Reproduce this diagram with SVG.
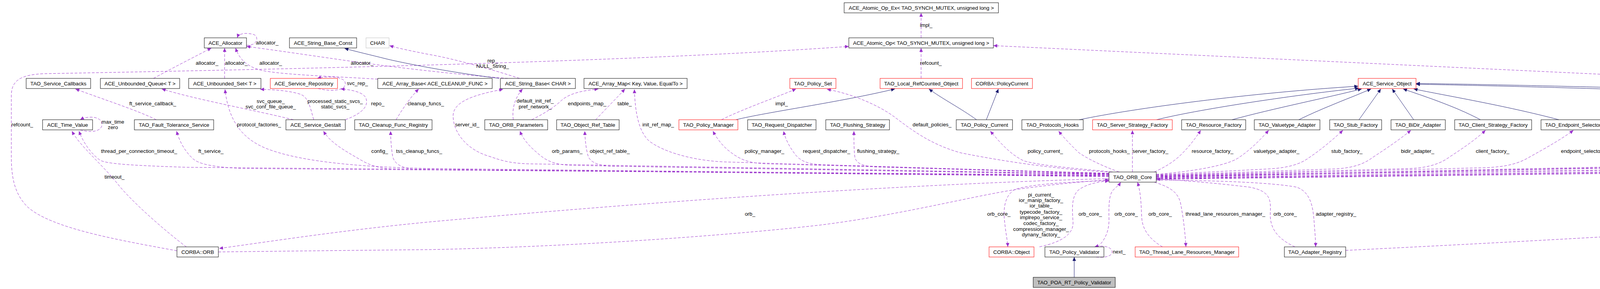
<svg xmlns="http://www.w3.org/2000/svg" width="6268" height="741" viewBox="0 0 6268 741">
<style>
.node rect{fill:#ffffff;stroke:#000000;stroke-width:1}
.node.red rect{stroke:#ff0000}
.node.gray rect{stroke:#bfbfbf}
.node.cur rect{fill:#bfbfbf}
text{font-family:"Liberation Sans",Arial,Helvetica,sans-serif;font-size:13.33px;fill:#000000;text-anchor:middle}
.e{fill:none;stroke:#9a32cd;stroke-width:1;stroke-dasharray:7,4;marker-end:url(#ap)}
.i{fill:none;stroke:#191970;stroke-width:1;marker-end:url(#ai)}
</style>
<defs>
<marker id="ap" markerUnits="userSpaceOnUse" markerWidth="11" markerHeight="9" refX="10" refY="4.5" orient="auto"><path d="M0,0 L10,4.5 L0,9 z" fill="#9a32cd"/></marker>
<marker id="ai" markerUnits="userSpaceOnUse" markerWidth="11" markerHeight="9" refX="10" refY="4.5" orient="auto"><path d="M0,0 L10,4.5 L0,9 z" fill="#191970"/></marker>
</defs>
<rect x="0" y="0" width="6268" height="741" fill="#ffffff"/>
<g id="edges">
<path class="e" d="M631,116 C660,118 664,92 648,88 C632,84 612,84 607,97"/>
<path class="e" d="M393,201 C440,175 500,145 541,123"/>
<path class="e" d="M575,201 L575,123"/>
<path class="e" d="M967,203 C860,196 720,192 668,180 C630,170 612,150 603,123"/>
<path class="e" d="M1300,201 C1180,192 1030,175 920,160 C800,143 700,128 631,119"/>
<path class="e" d="M1330,201 C1250,175 1150,148 1100,140 C1050,130 1020,124 997,117"/>
<path class="e" d="M453,643 C300,615 130,585 70,530 C35,495 29,450 29,400 L29,245 C29,205 55,192 110,189 C700,178 1600,160 2173,119"/>
<path class="e" d="M2358,97 L2358,33"/>
<path class="e" d="M2358,201 L2358,123"/>
<path class="e" d="M2960,452 C3600,440 5500,420 6000,418 C6042,414 6042,370 6040,330 C6036,280 5990,230 5930,200 C5860,170 5760,175 5700,195 C5600,225 5480,245 5300,247 L2543,117"/>
<path class="i" d="M1278,201 C1150,185 1040,163 989,151 C950,141 910,132 882,124"/>
<path class="i" d="M1884,307 C1960,288 2150,262 2291,228"/>
<path class="i" d="M2500,307 C2460,278 2410,252 2378,228"/>
<path class="i" d="M2525,307 L2556,228"/>
<path class="i" d="M2763,307 C2900,278 3200,238 3477,221"/>
<path class="i" d="M2961,307 C3060,282 3300,245 3479,226"/>
<path class="i" d="M3154,307 C3260,278 3400,250 3486,228"/>
<path class="i" d="M3325,307 C3390,275 3460,250 3510,228"/>
<path class="i" d="M3479,307 L3535,228"/>
<path class="i" d="M3619,307 L3564,228"/>
<path class="i" d="M3790,307 C3720,270 3640,245 3592,228"/>
<path class="i" d="M3991,307 C3850,270 3700,245 3619,228"/>
<path class="i" d="M5562,307 C5400,290 5100,270 4600,246 C4200,229 3800,219 3625,216"/>
<path class="i" d="M5770,307 C5600,290 5200,258 4600,238 C4200,225 3800,216 3625,214"/>
<path class="i" d="M2750,711 L2750,659"/>
<path class="e" d="M400,307 C350,282 250,250 193,228"/>
<path class="e" d="M751,307 C650,282 500,255 414,228"/>
<path class="e" d="M803,307 C795,278 790,250 770,242 C740,232 700,230 666,229"/>
<path class="e" d="M884,307 C930,290 945,270 936,250 C928,236 900,230 872,228"/>
<path class="e" d="M814,227 C850,236 884,232 884,214 C884,196 840,194 812,201"/>
<path class="e" d="M1014,307 C1030,280 1050,250 1072,228"/>
<path class="e" d="M1314,307 C1310,280 1318,250 1338,228"/>
<path class="e" d="M1361,307 C1400,288 1425,270 1440,255 C1465,236 1500,232 1532,228"/>
<path class="e" d="M1525,307 C1550,280 1580,250 1600,228"/>
<path class="e" d="M1847,307 C1900,280 2000,245 2038,228"/>
<path class="e" d="M205,333 C235,342 262,336 261,318 C260,298 225,296 205,307"/>
<path class="e" d="M4660,333 C4700,345 4730,338 4727,318 C4724,296 4690,294 4660,307"/>
<path class="e" d="M2806,659 C2830,662 2848,656 2847,645 C2846,632 2820,628 2802,633"/>
<path class="e" d="M2839,449 L480,429 C330,424 270,420 255,410 C235,395 215,370 202,336"/>
<path class="e" d="M2839,450 L620,432 C540,428 510,420 495,408 C475,390 460,365 452,336"/>
<path class="e" d="M2839,451 L1100,432 C900,428 760,412 680,380 C620,355 585,310 576,229"/>
<path class="e" d="M2839,452 L1000,433 C960,430 940,420 920,408 C880,385 845,365 828,336"/>
<path class="e" d="M2839,453 L1060,434 C1020,430 1008,415 1005,400 C1002,380 1000,360 1000,336"/>
<path class="e" d="M2839,446 L1350,420 C1300,418 1280,410 1250,400 C1200,385 1162,345 1160,300 C1158,265 1200,245 1288,229"/>
<path class="e" d="M2839,447 L1460,424 C1420,422 1400,412 1385,400 C1360,380 1340,360 1331,336"/>
<path class="e" d="M2839,448 L1560,426 C1520,423 1508,410 1505,398 C1500,380 1498,360 1497,336"/>
<path class="e" d="M2839,445 L1850,415 C1760,410 1690,385 1660,360 C1635,335 1626,290 1624,229"/>
<path class="e" d="M2839,444 L1960,420 C1910,418 1890,405 1870,390 C1850,375 1835,355 1825,336"/>
<path class="e" d="M2839,445 L2100,422 C2060,420 2045,408 2035,395 C2020,375 2010,355 2006,336"/>
<path class="e" d="M2839,446 L2240,428 C2200,425 2190,415 2188,400 C2186,380 2186,360 2186,336"/>
<path class="e" d="M2845,441 C2700,435 2550,410 2460,392 C2380,370 2330,330 2290,300 C2250,270 2180,240 2117,229"/>
<path class="e" d="M2848,441 C2760,432 2660,425 2620,412 C2585,395 2560,365 2535,336"/>
<path class="e" d="M2865,441 C2820,425 2780,405 2760,390 C2740,370 2725,355 2710,336"/>
<path class="e" d="M2899,441 L2899,334"/>
<path class="e" d="M2955,441 C2990,425 3010,410 3025,395 C3045,375 3060,355 3074,334"/>
<path class="e" d="M2960,447 C3050,440 3140,425 3170,405 C3200,385 3225,360 3248,334"/>
<path class="e" d="M2960,448 L3250,433 C3300,430 3330,420 3350,405 C3380,385 3410,360 3438,334"/>
<path class="e" d="M2960,449 L3420,433 C3470,430 3495,418 3515,403 C3550,380 3580,360 3612,334"/>
<path class="e" d="M2960,450 L3610,432 C3660,430 3690,418 3710,403 C3745,380 3775,360 3803,334"/>
<path class="e" d="M2960,451 L3800,430 C3860,428 3890,418 3915,403 C3960,378 4000,355 4028,334"/>
<path class="e" d="M2960,452 L4120,428 C4170,425 4185,410 4200,395 C4220,375 4240,355 4254,334"/>
<path class="e" d="M2960,453 L4300,428 C4350,425 4370,414 4385,400 C4405,380 4420,360 4437,334"/>
<path class="e" d="M2960,454 L4500,422 C4535,418 4555,402 4568,388 C4585,370 4600,352 4611,334"/>
<path class="e" d="M2960,455 L4540,421 C4620,414 4720,394 4780,374 C4840,356 4890,345 4914,334"/>
<path class="e" d="M2960,456 L4812,425 C4900,418 4990,405 5040,390 C5110,368 5160,350 5193,334"/>
<path class="e" d="M2960,457 L5250,424 C5300,420 5330,400 5350,385 C5380,365 5400,350 5420,334"/>
<path class="e" d="M2960,458 L5430,424 C5480,420 5510,405 5530,393 C5570,370 5600,350 5620,334"/>
<path class="e" d="M2960,459 L5680,423 C5730,420 5760,405 5780,392 C5810,372 5840,350 5860,334"/>
<path class="e" d="M2960,460 L6040,420 C6070,418 6075,405 6080,390 C6085,370 6100,350 6134,334"/>
<path class="e" d="M2839,458 C2400,470 1800,505 1100,569 C880,590 700,618 561,637"/>
<path class="e" d="M559,646 C800,643 1000,641 1100,640 C1500,632 1900,600 2100,577 C2300,552 2480,505 2600,486 C2700,472 2780,465 2839,461"/>
<path class="e" d="M477,633 C420,590 335,515 300,470 C260,420 205,375 184,336"/>
<path class="e" d="M2839,463 C2760,466 2650,470 2600,485 C2570,500 2568,540 2572,570 C2575,600 2579,615 2580,633"/>
<path class="e" d="M2661,633 C2720,620 2748,600 2747,570 C2745,540 2742,505 2760,488 C2780,472 2810,466 2839,464"/>
<path class="e" d="M2810,633 C2830,615 2840,590 2839,560 C2838,520 2840,495 2852,485 C2860,478 2866,472 2869,467"/>
<path class="e" d="M2976,633 C2945,615 2925,590 2923,560 C2921,530 2922,500 2912,467"/>
<path class="e" d="M2955,467 C2990,478 3015,490 3022,520 C3030,560 3034,600 3036,633"/>
<path class="e" d="M2960,462 C3100,462 3260,468 3320,480 C3360,495 3362,540 3365,580 C3367,605 3368,620 3368,633"/>
<path class="e" d="M3315,633 C3265,610 3250,580 3252,545 C3254,510 3250,490 3200,480 C3100,468 3020,462 2960,459"/>
<path class="e" d="M3445,642 C4000,615 5000,560 5700,496 C5950,475 6140,455 6180,425 C6192,400 6188,360 6184,334"/>
</g>
<g id="edge-labels">
<text x="684" y="114">allocator_</text>
<text x="530" y="166">allocator_</text>
<text x="605" y="166">allocator_</text>
<text x="693" y="166">allocator_</text>
<text x="927" y="166">allocator_</text>
<text x="1261" y="160">rep_</text>
<text x="1261" y="174">NULL_String_</text>
<text x="915" y="218">svc_rep_</text>
<text x="391" y="270">ft_service_callback_</text>
<text x="693" y="264">svc_queue_</text>
<text x="693" y="278">svc_conf_file_queue_</text>
<text x="858" y="264">processed_static_svcs_</text>
<text x="858" y="278">static_svcs_</text>
<text x="967" y="270">repo_</text>
<text x="1090" y="270">cleanup_funcs_</text>
<text x="1370" y="263">default_init_ref_</text>
<text x="1370" y="278">pref_network_</text>
<text x="1503" y="270">endpoints_map_</text>
<text x="1599" y="270">table_</text>
<text x="2001" y="270">impl_</text>
<text x="2371" y="69">impl_</text>
<text x="2383" y="166">refcount_</text>
<text x="57" y="324">refcount_</text>
<text x="289" y="317">max_time</text>
<text x="289" y="331">zero</text>
<text x="663" y="324">protocol_factories_</text>
<text x="1196" y="324">server_id_</text>
<text x="1685" y="324">init_ref_map_</text>
<text x="2386" y="324">default_policies_</text>
<text x="4756" y="324">thr_mgr_</text>
<text x="6026" y="270">refcount_</text>
<text x="356" y="392">thread_per_connection_timeout_</text>
<text x="540" y="392">ft_service_</text>
<text x="972" y="392">config_</text>
<text x="1073" y="392">tss_cleanup_funcs_</text>
<text x="1452" y="392">orb_params_</text>
<text x="1561" y="392">object_ref_table_</text>
<text x="1957" y="392">policy_manager_</text>
<text x="2116" y="392">request_dispatcher_</text>
<text x="2248" y="392">flushing_strategy_</text>
<text x="2676" y="392">policy_current_</text>
<text x="2840" y="392">protocols_hooks_</text>
<text x="2945" y="392">server_factory_</text>
<text x="3104" y="392">resource_factory_</text>
<text x="3268" y="392">valuetype_adapter_</text>
<text x="3448" y="392">stub_factory_</text>
<text x="3629" y="392">bidir_adapter_</text>
<text x="3821" y="392">client_factory_</text>
<text x="4076" y="392">endpoint_selector_factory_</text>
<text x="4294" y="392">codeset_manager_</text>
<text x="4469" y="392">parser_registry_</text>
<text x="4610" y="392">tm_</text>
<text x="4905" y="392">data_block_lock_</text>
<text x="5219" y="392">ior_interceptor_adapter_</text>
<text x="5655" y="392">collocation_resolver_</text>
<text x="5929" y="392">network_priority_protocols_hooks_</text>
<text x="6141" y="392">poa_adapter_</text>
<text x="5437" y="370">rt_orb_</text>
<text x="5437" y="385">poa_current_</text>
<text x="5437" y="400">rt_current_</text>
<text x="5437" y="414">root_poa_</text>
<text x="293" y="458">timeout_</text>
<text x="6156" y="458">adapters_</text>
<text x="1920" y="553">orb_</text>
<text x="2557" y="553">orb_core_</text>
<text x="2791" y="553">orb_core_</text>
<text x="2883" y="553">orb_core_</text>
<text x="2970" y="553">orb_core_</text>
<text x="3290" y="553">orb_core_</text>
<text x="3137" y="553">thread_lane_resources_manager_</text>
<text x="3420" y="553">adapter_registry_</text>
<text x="2665" y="504">pi_current_</text>
<text x="2665" y="518">ior_manip_factory_</text>
<text x="2665" y="532">ior_table_</text>
<text x="2665" y="548">typecode_factory_</text>
<text x="2665" y="562">implrepo_service_</text>
<text x="2665" y="577">codec_factory_</text>
<text x="2665" y="592">compression_manager_</text>
<text x="2665" y="606">dynany_factory_</text>
<text x="2865" y="650">next_</text>
</g>
<g id="n_atomic_op_ex" class="node"><rect x="2161" y="7" width="395" height="26"/><text x="2358.5" y="24.7">ACE_Atomic_Op_Ex&lt; TAO_SYNCH_MUTEX, unsigned long &gt;</text></g>
<g id="n_allocator" class="node"><rect x="523" y="97" width="108" height="26"/><text x="577" y="114.7">ACE_Allocator</text></g>
<g id="n_string_base_const" class="node"><rect x="741" y="97" width="172" height="26"/><text x="827" y="114.7">ACE_String_Base_Const</text></g>
<g id="n_char" class="node gray"><rect x="937" y="97" width="59" height="26"/><text x="966.5" y="114.7">CHAR</text></g>
<g id="n_atomic_op" class="node"><rect x="2173" y="97" width="370" height="26"/><text x="2358" y="114.7">ACE_Atomic_Op&lt; TAO_SYNCH_MUTEX, unsigned long &gt;</text></g>
<g id="n_service_callbacks" class="node"><rect x="67" y="201" width="165" height="26"/><text x="149.5" y="218.7">TAO_Service_Callbacks</text></g>
<g id="n_unbounded_queue" class="node"><rect x="257" y="201" width="203" height="26"/><text x="358.5" y="218.7">ACE_Unbounded_Queue&lt; T &gt;</text></g>
<g id="n_unbounded_set" class="node"><rect x="483" y="201" width="185" height="26"/><text x="575.5" y="218.7">ACE_Unbounded_Set&lt; T &gt;</text></g>
<g id="n_service_repository" class="node red"><rect x="692" y="201" width="172" height="26"/><text x="778" y="218.7">ACE_Service_Repository</text></g>
<g id="n_array_base" class="node"><rect x="967" y="201" width="293" height="26"/><text x="1113.5" y="218.7">ACE_Array_Base&lt; ACE_CLEANUP_FUNC &gt;</text></g>
<g id="n_string_base" class="node"><rect x="1281" y="201" width="192" height="26"/><text x="1377" y="218.7">ACE_String_Base&lt; CHAR &gt;</text></g>
<g id="n_array_map" class="node"><rect x="1495" y="201" width="264" height="26"/><text x="1627" y="218.7">ACE_Array_Map&lt; Key, Value, EqualTo &gt;</text></g>
<g id="n_policy_set" class="node red"><rect x="2022" y="201" width="118" height="26"/><text x="2081" y="218.7">TAO_Policy_Set</text></g>
<g id="n_local_refcounted" class="node red"><rect x="2253" y="201" width="211" height="26"/><text x="2358.5" y="218.7">TAO_Local_RefCounted_Object</text></g>
<g id="n_policycurrent" class="node red"><rect x="2487" y="201" width="156" height="26"/><text x="2565" y="218.7">CORBA::PolicyCurrent</text></g>
<g id="n_service_object" class="node red"><rect x="3477" y="201" width="148" height="26"/><text x="3551" y="218.7">ACE_Service_Object</text></g>
<g id="n_time_value" class="node"><rect x="109" y="307" width="128" height="26"/><text x="173" y="324.7">ACE_Time_Value</text></g>
<g id="n_fault_tolerance" class="node"><rect x="344" y="307" width="203" height="26"/><text x="445.5" y="324.7">TAO_Fault_Tolerance_Service</text></g>
<g id="n_gestalt" class="node"><rect x="732" y="307" width="152" height="26"/><text x="808" y="324.7">ACE_Service_Gestalt</text></g>
<g id="n_cleanup" class="node"><rect x="908" y="307" width="198" height="26"/><text x="1007" y="324.7">TAO_Cleanup_Func_Registry</text></g>
<g id="n_orb_params" class="node"><rect x="1241" y="307" width="161" height="26"/><text x="1321.5" y="324.7">TAO_ORB_Parameters</text></g>
<g id="n_object_ref_table" class="node"><rect x="1425" y="307" width="160" height="26"/><text x="1505" y="324.7">TAO_Object_Ref_Table</text></g>
<g id="n_policy_manager" class="node red"><rect x="1738" y="307" width="151" height="26"/><text x="1813.5" y="324.7">TAO_Policy_Manager</text></g>
<g id="n_request_dispatcher" class="node"><rect x="1914" y="307" width="175" height="26"/><text x="2001.5" y="324.7">TAO_Request_Dispatcher</text></g>
<g id="n_flushing" class="node"><rect x="2114" y="307" width="163" height="26"/><text x="2195.5" y="324.7">TAO_Flushing_Strategy</text></g>
<g id="n_policy_current" class="node"><rect x="2448" y="307" width="144" height="26"/><text x="2520" y="324.7">TAO_Policy_Current</text></g>
<g id="n_protocols_hooks" class="node"><rect x="2616" y="307" width="157" height="26"/><text x="2694.5" y="324.7">TAO_Protocols_Hooks</text></g>
<g id="n_server_strategy" class="node red"><rect x="2797" y="307" width="204" height="26"/><text x="2899" y="324.7">TAO_Server_Strategy_Factory</text></g>
<g id="n_resource_factory" class="node"><rect x="3025" y="307" width="164" height="26"/><text x="3107" y="324.7">TAO_Resource_Factory</text></g>
<g id="n_valuetype" class="node"><rect x="3211" y="307" width="168" height="26"/><text x="3295" y="324.7">TAO_Valuetype_Adapter</text></g>
<g id="n_stub_factory" class="node"><rect x="3404" y="307" width="133" height="26"/><text x="3470.5" y="324.7">TAO_Stub_Factory</text></g>
<g id="n_bidir" class="node"><rect x="3561" y="307" width="139" height="26"/><text x="3630.5" y="324.7">TAO_BiDir_Adapter</text></g>
<g id="n_client_strategy" class="node"><rect x="3724" y="307" width="197" height="26"/><text x="3822.5" y="324.7">TAO_Client_Strategy_Factory</text></g>
<g id="n_endpoint_selector" class="node"><rect x="3945" y="307" width="216" height="26"/><text x="4053" y="324.7">TAO_Endpoint_Selector_Factory</text></g>
<g id="n_codeset" class="node"><rect x="4185" y="307" width="164" height="26"/><text x="4267" y="324.7">TAO_Codeset_Manager</text></g>
<g id="n_parser_registry" class="node red"><rect x="4373" y="307" width="151" height="26"/><text x="4448.5" y="324.7">TAO_Parser_Registry</text></g>
<g id="n_thread_manager" class="node red"><rect x="4547" y="307" width="161" height="26"/><text x="4627.5" y="324.7">ACE_Thread_Manager</text></g>
<g id="n_lock_adapter" class="node red"><rect x="4811" y="307" width="296" height="26"/><text x="4959" y="324.7">ACE_Lock_Adapter&lt; TAO_SYNCH_MUTEX &gt;</text></g>
<g id="n_iorinterceptor" class="node"><rect x="5131" y="307" width="197" height="26"/><text x="5229.5" y="324.7">TAO_IORInterceptor_Adapter</text></g>
<g id="n_pseudo_var" class="node red"><rect x="5353" y="307" width="175" height="26"/><text x="5440.5" y="324.7">TAO_Pseudo_Var_T&lt; T &gt;</text></g>
<g id="n_collocation" class="node"><rect x="5553" y="307" width="180" height="26"/><text x="5643" y="324.7">TAO_Collocation_Resolver</text></g>
<g id="n_network_priority" class="node"><rect x="5757" y="307" width="263" height="26"/><text x="5888.5" y="324.7">TAO_Network_Priority_Protocols_Hooks</text></g>
<g id="n_adapter" class="node"><rect x="6124" y="307" width="102" height="26"/><text x="6175" y="324.7">TAO_Adapter</text></g>
<g id="n_orb_core" class="node"><rect x="2839" y="441" width="121" height="26"/><text x="2899.5" y="458.7">TAO_ORB_Core</text></g>
<g id="n_corba_orb" class="node"><rect x="453" y="633" width="106" height="26"/><text x="506" y="650.7">CORBA::ORB</text></g>
<g id="n_corba_object" class="node red"><rect x="2532" y="633" width="115" height="26"/><text x="2589.5" y="650.7">CORBA::Object</text></g>
<g id="n_policy_validator" class="node"><rect x="2675" y="633" width="151" height="26"/><text x="2750.5" y="650.7">TAO_Policy_Validator</text></g>
<g id="n_thread_lane" class="node red"><rect x="2906" y="633" width="265" height="26"/><text x="3038.5" y="650.7">TAO_Thread_Lane_Resources_Manager</text></g>
<g id="n_adapter_registry" class="node"><rect x="3288" y="633" width="157" height="26"/><text x="3366.5" y="650.7">TAO_Adapter_Registry</text></g>
<g id="n_poa_rt_policy_validator" class="node cur"><rect x="2645" y="711" width="210" height="26"/><text x="2750" y="728.7">TAO_POA_RT_Policy_Validator</text></g>
</svg>
